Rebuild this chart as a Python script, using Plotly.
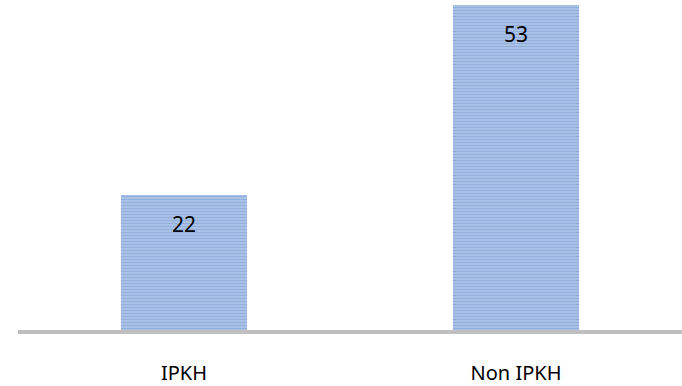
import plotly.graph_objects as go

categories = ["IPKH", "Non IPKH"]
values = [22, 53]

fig = go.Figure()
fig.add_trace(go.Bar(
    x=categories,
    y=values,
    width=0.38,
    marker=dict(
        color="#a6bfe6",
        line=dict(width=0),
        pattern=dict(shape="-", fgcolor="#7b9bd0", bgcolor="#a9c1e6", size=3, solidity=0.35),
    ),
    hoverinfo="skip",
))

for c, v in zip(categories, values):
    fig.add_annotation(x=c, y=v, text=str(v), showarrow=False, yanchor="top", yshift=-13,
                       font=dict(family="Noto Sans", size=21, color="#000000"))

fig.update_layout(
    width=682, height=386,
    margin=dict(l=18, r=0, t=0, b=56),
    paper_bgcolor="white", plot_bgcolor="white",
    showlegend=False,
    bargap=0.62,
    xaxis=dict(showline=True, linecolor="#bfbfbf", linewidth=4, showgrid=False, ticks="", zeroline=False,
               automargin=False,
               tickfont=dict(family="Noto Sans", size=20, color="#000000"), ticklabelstandoff=22,
               range=[-0.5, 1.5]),
    yaxis=dict(visible=False, range=[0, 53.8], showgrid=False, zeroline=False, automargin=False),
)

fig.write_html("out.html", post_script="document.body.style.overflow='hidden';document.documentElement.style.overflow='hidden';document.body.style.margin='0';")
